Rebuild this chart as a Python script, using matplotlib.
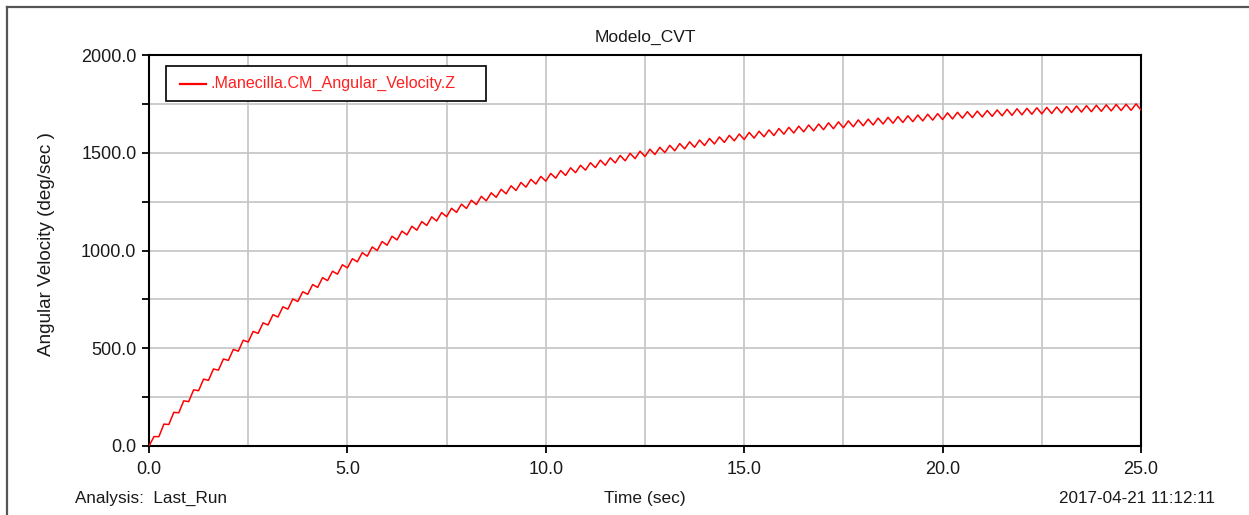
import numpy as np
import matplotlib
matplotlib.use("Agg")
import matplotlib.pyplot as plt
from matplotlib.ticker import MultipleLocator, FormatStrFormatter
from matplotlib.lines import Line2D
from matplotlib.patches import Rectangle

# Simulation output: angular velocity of .Manecilla (deg/sec), sampled every 0.125 s
velocity = [
    0, 48, 48, 112, 110, 172, 170, 231,
    227, 287, 283, 342, 336, 394, 388, 445,
    438, 494, 485, 541, 532, 586, 576, 630,
    619, 672, 660, 712, 700, 752, 739, 789,
    776, 826, 811, 861, 846, 894, 879, 927,
    911, 958, 942, 989, 971, 1018, 1000, 1046,
    1027, 1073, 1054, 1099, 1080, 1124, 1104, 1148,
    1128, 1172, 1151, 1194, 1173, 1216, 1195, 1237,
    1215, 1257, 1235, 1277, 1254, 1295, 1272, 1313,
    1290, 1331, 1307, 1348, 1324, 1364, 1340, 1379,
    1355, 1394, 1370, 1409, 1384, 1423, 1398, 1436,
    1411, 1449, 1424, 1462, 1436, 1474, 1448, 1486,
    1459, 1497, 1470, 1508, 1481, 1518, 1491, 1528,
    1501, 1538, 1510, 1547, 1520, 1556, 1528, 1565,
    1537, 1573, 1545, 1581, 1553, 1589, 1561, 1596,
    1568, 1604, 1575, 1610, 1582, 1617, 1588, 1624,
    1595, 1630, 1601, 1636, 1607, 1642, 1612, 1647,
    1618, 1653, 1623, 1658, 1628, 1663, 1633, 1668,
    1638, 1672, 1642, 1677, 1647, 1681, 1651, 1685,
    1655, 1689, 1659, 1693, 1663, 1697, 1667, 1700,
    1670, 1704, 1673, 1707, 1677, 1710, 1680, 1713,
    1683, 1716, 1686, 1719, 1689, 1722, 1691, 1725,
    1694, 1727, 1697, 1730, 1699, 1732, 1701, 1734,
    1704, 1737, 1706, 1739, 1708, 1741, 1710, 1743,
    1712, 1745, 1714, 1747, 1716, 1748, 1717, 1750,
    1719,
]
t_end = 25.0
time_s = np.linspace(0.0, t_end, len(velocity))

x_ticks = [0.0, 5.0, 10.0, 15.0, 20.0, 25.0]
y_ticks = [0.0, 500.0, 1000.0, 1500.0, 2000.0]

title = "Modelo_CVT"
series_name = ".Manecilla.CM_Angular_Velocity.Z"
x_label = "Time (sec)"
y_label = "Angular Velocity (deg/sec )"
analysis_label = "Analysis:  Last_Run"
timestamp = "2017-04-21 11:12:11"

plt.rcParams["font.family"] = ["Liberation Sans", "DejaVu Sans"]
TEXT_COLOR = "#1a1a1a"

W, H = 1249, 515
fig = plt.figure(figsize=(W / 100, H / 100), dpi=100)
fig.patch.set_facecolor("white")

# plot area
ax = fig.add_axes([149 / W, 1 - 446 / H, 992 / W, 391 / H])
ax.plot(time_s, velocity, color="#ff0000", lw=1.1, zorder=3)
ax.set_xlim(0, t_end)
ax.set_ylim(0, 2000)

ax.set_xticks(x_ticks)
ax.xaxis.set_minor_locator(MultipleLocator(2.5))
ax.set_yticks(y_ticks)
ax.yaxis.set_minor_locator(MultipleLocator(250))
ax.xaxis.set_major_formatter(FormatStrFormatter("%.1f"))
ax.yaxis.set_major_formatter(FormatStrFormatter("%.1f"))

ax.grid(which="both", color="#c8c8c8", lw=1.3)
ax.set_axisbelow(True)
ax.tick_params(axis="both", which="major", direction="out", length=5,
               width=1.3, color="black", labelsize=13, labelcolor=TEXT_COLOR)
ax.tick_params(axis="x", which="major", pad=6)
ax.tick_params(axis="y", which="major", pad=4)
ax.tick_params(axis="x", which="minor", length=0)
ax.tick_params(axis="y", which="minor", direction="out", length=5,
               width=1.3, color="black")
for sp in ax.spines.values():
    sp.set_color("black")
    sp.set_linewidth(1.5)

# legend box
leg_x0, leg_x1 = (166 - 149) / 992, (486 - 149) / 992
leg_y0, leg_y1 = (446 - 101) / 391, (446 - 66) / 391
ax.add_patch(Rectangle((leg_x0, leg_y0), leg_x1 - leg_x0, leg_y1 - leg_y0,
                       transform=ax.transAxes, facecolor="white",
                       edgecolor="black", lw=1.2, zorder=5))
leg_yc = (leg_y0 + leg_y1) / 2
ax.add_line(Line2D([(180 - 149) / 992, (206 - 149) / 992], [leg_yc, leg_yc],
                   transform=ax.transAxes, color="#ff0000", lw=1.6, zorder=6))
ax.text((210 - 149) / 992, leg_yc, series_name, transform=ax.transAxes,
        color="#ff2020", fontsize=11.6, ha="left", va="center", zorder=6)

# outer frame (top and left edges)
fig.add_artist(Line2D([7 / W, 1.0], [1 - 7 / H, 1 - 7 / H],
                      transform=fig.transFigure, color="#555555", lw=1.6))
fig.add_artist(Line2D([7 / W, 7 / W], [0.0, 1 - 7 / H],
                      transform=fig.transFigure, color="#555555", lw=1.6))

# surrounding text
fig.text(645 / W, 1 - 42 / H, title, ha="center", va="baseline",
         fontsize=12.5, color=TEXT_COLOR)
fig.text(645 / W, 1 - 503 / H, x_label, ha="center", va="baseline",
         fontsize=12.5, color=TEXT_COLOR)
fig.text(75 / W, 1 - 503 / H, analysis_label, ha="left", va="baseline",
         fontsize=12.3, color=TEXT_COLOR)
fig.text(1215 / W, 1 - 503 / H, timestamp, ha="right", va="baseline",
         fontsize=12.3, color=TEXT_COLOR)
fig.text(47 / W, 1 - 244 / H, y_label, rotation=90, ha="center", va="center",
         fontsize=13.6, color=TEXT_COLOR)

fig.savefig("out.png", dpi=100, facecolor="white")
